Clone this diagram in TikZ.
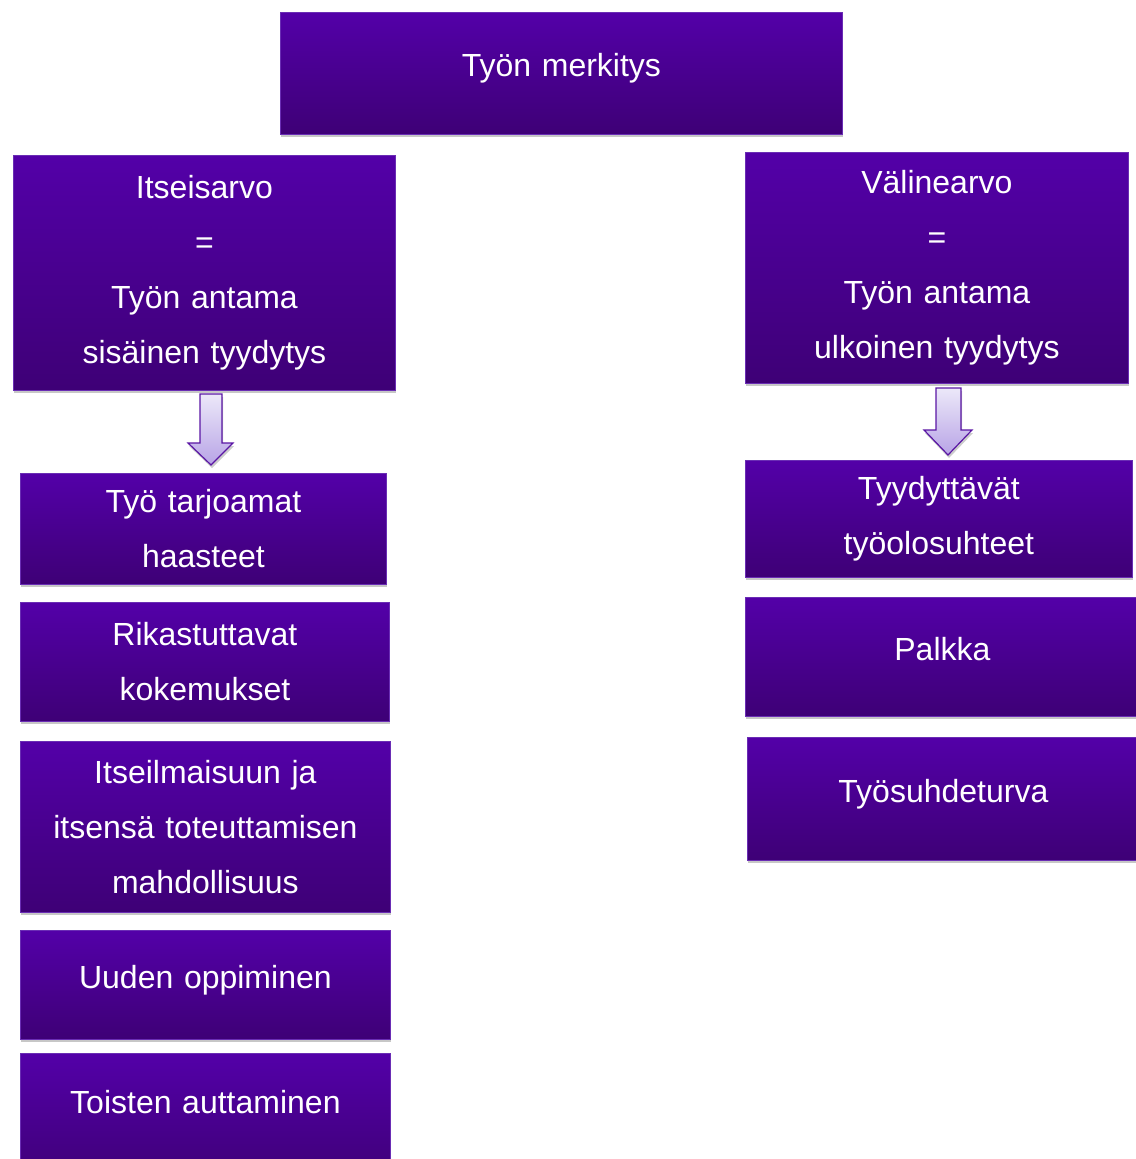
\documentclass[tikz,border=0pt]{standalone}
\usepackage{fontspec}
\setmainfont{Liberation Sans}
\usetikzlibrary{shadows}
\definecolor{boxtop}{HTML}{5300A8}
\definecolor{boxbot}{HTML}{3E0076}
\definecolor{boxedge}{HTML}{6A2DB4}
\definecolor{arrtop}{HTML}{ECE8F9}
\definecolor{arrbot}{HTML}{B8A4E6}
\definecolor{arredge}{HTML}{5A16A4}

\begin{document}
\begin{tikzpicture}[x=1pt,y=-1pt]
\tikzstyle{every node}=[inner sep=0pt, anchor=north west, align=center, text=white,
  font=\fontsize{32}{55}\selectfont]
\tikzstyle{purplebox}=[draw=boxedge, line width=0.8pt, top color=boxtop, bottom color=boxbot,
  drop shadow={shadow xshift=1pt, shadow yshift=-3pt, opacity=0.22, fill=black}]
\tikzstyle{oneline}=[text depth=16pt]
\tikzstyle{downarrow}=[draw=arredge, line width=1.2pt, top color=arrtop, bottom color=arrbot,
  drop shadow={shadow xshift=1pt, shadow yshift=-3pt, opacity=0.2, fill=black}]
\useasboundingbox (0,0) rectangle (1135,1159);

\node[purplebox, oneline, minimum width=562pt, minimum height=122pt, text width=562pt] (merkitys) at (280,12) {Työn merkitys};

\node[purplebox, minimum width=382pt, minimum height=235pt, text width=382pt] (itseisarvo) at (13,155)
{Itseisarvo\\=\\Työn antama\\sisäinen tyydytys};
\node[purplebox, minimum width=383pt, minimum height=231pt, text width=383pt] (valinearvo) at (745,152)
{Välinearvo\\=\\Työn antama\\ulkoinen tyydytys};

% left column
\node[purplebox, minimum width=366pt, minimum height=111pt, text width=366pt] (haasteet) at (20,473)
{Työ tarjoamat\\haasteet};
\node[purplebox, minimum width=369pt, minimum height=119pt, text width=369pt] (kokemukset) at (20,602)
{Rikastuttavat\\kokemukset};
\node[purplebox, minimum width=370pt, minimum height=171pt, text width=370pt] (ilmaisu) at (20,741)
{Itseilmaisuun ja\\itsensä toteuttamisen\\mahdollisuus};
\node[purplebox, oneline, minimum width=370pt, minimum height=109pt, text width=370pt] (oppiminen) at (20,930)
{Uuden oppiminen};
\node[purplebox, minimum width=370pt, minimum height=130pt, text width=370pt, text depth=34pt] (auttaminen) at (20,1053)
{Toisten auttaminen};

% right column
\node[purplebox, minimum width=387pt, minimum height=117pt, text width=387pt] (olosuhteet) at (745,460)
{Tyydyttävät\\työolosuhteet};
\node[purplebox, oneline, minimum width=394pt, minimum height=119pt, text width=394pt] (palkka) at (745,597)
{Palkka};
\node[purplebox, oneline, minimum width=392pt, minimum height=123pt, text width=392pt] (turva) at (747,737)
{Työsuhdeturva};

% block arrows
\path[downarrow] (200,394) -- (222,394) -- (222,443) -- (233,443) -- (211,465)
  -- (188,443) -- (200,443) -- cycle;
\path[downarrow] (936,388) -- (961,388) -- (961,430) -- (972,430) -- (948,455)
  -- (924,430) -- (936,430) -- cycle;

\end{tikzpicture}
\end{document}
